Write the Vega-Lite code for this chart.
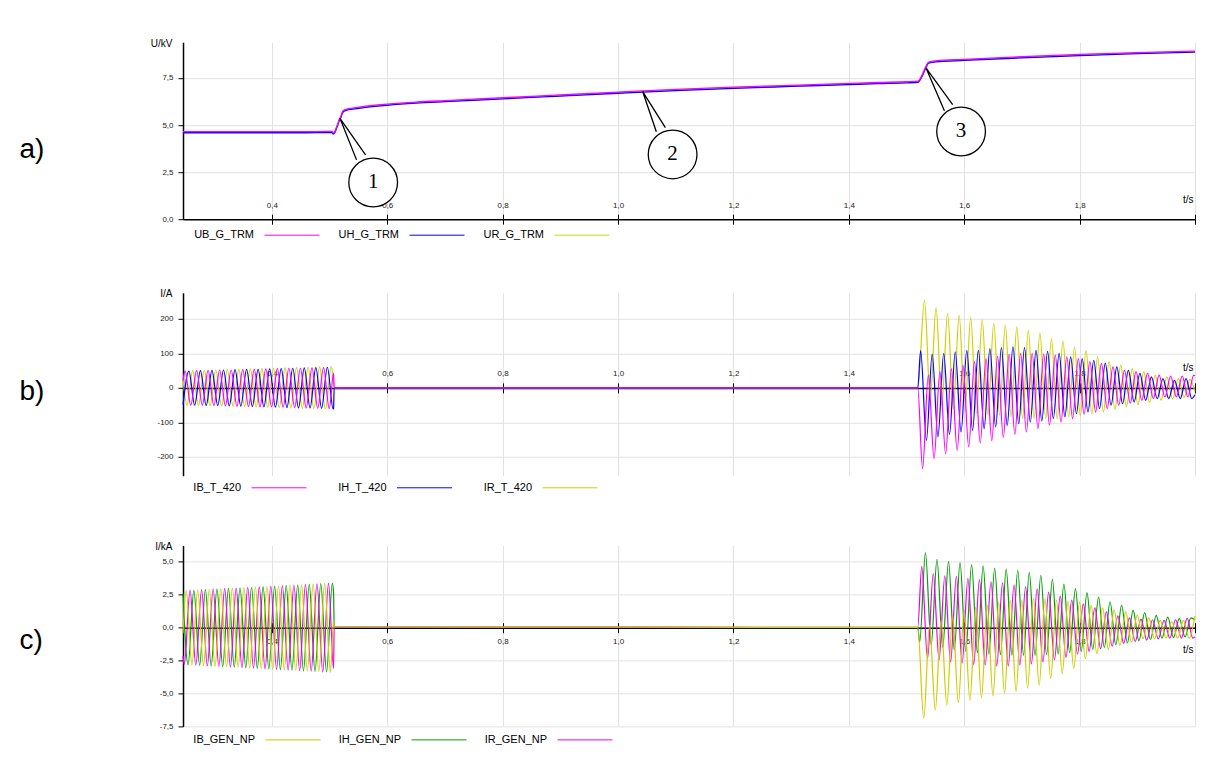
{
"$schema":"https://vega.github.io/schema/vega-lite/v6.json",
"background":"#ffffff",
"padding":{"left":19,"top":38.2,"right":5,"bottom":5},
"config":{
 "view":{"stroke":null},
 "font":"Liberation Sans",
 "axis":{"labelFont":"Liberation Sans","titleFont":"Liberation Sans","labelFontSize":8,"labelColor":"#222","domainColor":"#000","tickColor":"#000","gridColor":"#e2e2e2","titleFontWeight":"normal","titleColor":"#000","labelOverlap":false,"labelFlush":false},
 "legend":{"orient":"none","direction":"horizontal","symbolType":"stroke","symbolSize":3025,"symbolStrokeWidth":1,"labelAlign":"right","labelOffset":-66,"labelFontSize":11,"labelFont":"Liberation Sans","labelColor":"#000","title":null}
},
"datasets":{
"a":[
{"s":"R","t":0.246,"v":4.62},{"s":"R","t":0.35,"v":4.62},{"s":"R","t":0.45,"v":4.62},{"s":"R","t":0.5045,"v":4.63},{"s":"R","t":0.5065,"v":4.55},{"s":"R","t":0.509,"v":4.62},{"s":"R","t":0.512,"v":4.85},{"s":"R","t":0.5145,"v":5.05},{"s":"R","t":0.517,"v":5.28},{"s":"R","t":0.5195,"v":5.42},{"s":"R","t":0.522,"v":5.65},{"s":"R","t":0.524,"v":5.74},{"s":"R","t":0.53,"v":5.82},{"s":"R","t":0.54,"v":5.87},{"s":"R","t":0.56,"v":5.96},{"s":"R","t":0.6,"v":6.08},{"s":"R","t":0.65,"v":6.19},{"s":"R","t":0.7,"v":6.27},{"s":"R","t":0.8,"v":6.42},{"s":"R","t":0.9,"v":6.57},{"s":"R","t":1.0,"v":6.72},{"s":"R","t":1.1,"v":6.86},{"s":"R","t":1.2,"v":6.98},{"s":"R","t":1.3,"v":7.08},{"s":"R","t":1.4,"v":7.18},{"s":"R","t":1.45,"v":7.23},{"s":"R","t":1.5,"v":7.27},{"s":"R","t":1.52,"v":7.3},{"s":"R","t":1.523,"v":7.4},{"s":"R","t":1.527,"v":7.62},{"s":"R","t":1.531,"v":7.9},{"s":"R","t":1.534,"v":8.1},{"s":"R","t":1.537,"v":8.28},{"s":"R","t":1.54,"v":8.33},{"s":"R","t":1.55,"v":8.38},{"s":"R","t":1.6,"v":8.46},{"s":"R","t":1.7,"v":8.6},{"s":"R","t":1.8,"v":8.72},{"s":"R","t":1.9,"v":8.82},{"s":"R","t":2.0,"v":8.9},
{"s":"H","t":0.246,"v":4.59},{"s":"H","t":0.35,"v":4.59},{"s":"H","t":0.45,"v":4.59},{"s":"H","t":0.5045,"v":4.6},{"s":"H","t":0.5065,"v":4.52},{"s":"H","t":0.509,"v":4.59},{"s":"H","t":0.512,"v":4.82},{"s":"H","t":0.5145,"v":5.02},{"s":"H","t":0.517,"v":5.25},{"s":"H","t":0.5195,"v":5.39},{"s":"H","t":0.522,"v":5.62},{"s":"H","t":0.524,"v":5.71},{"s":"H","t":0.53,"v":5.79},{"s":"H","t":0.54,"v":5.84},{"s":"H","t":0.56,"v":5.93},{"s":"H","t":0.6,"v":6.05},{"s":"H","t":0.65,"v":6.16},{"s":"H","t":0.7,"v":6.24},{"s":"H","t":0.8,"v":6.39},{"s":"H","t":0.9,"v":6.54},{"s":"H","t":1.0,"v":6.69},{"s":"H","t":1.1,"v":6.83},{"s":"H","t":1.2,"v":6.95},{"s":"H","t":1.3,"v":7.05},{"s":"H","t":1.4,"v":7.15},{"s":"H","t":1.45,"v":7.2},{"s":"H","t":1.5,"v":7.24},{"s":"H","t":1.52,"v":7.27},{"s":"H","t":1.523,"v":7.37},{"s":"H","t":1.527,"v":7.59},{"s":"H","t":1.531,"v":7.87},{"s":"H","t":1.534,"v":8.07},{"s":"H","t":1.537,"v":8.25},{"s":"H","t":1.54,"v":8.3},{"s":"H","t":1.55,"v":8.35},{"s":"H","t":1.6,"v":8.43},{"s":"H","t":1.7,"v":8.57},{"s":"H","t":1.8,"v":8.69},{"s":"H","t":1.9,"v":8.79},{"s":"H","t":2.0,"v":8.87},
{"s":"B","t":0.246,"v":4.65},{"s":"B","t":0.35,"v":4.65},{"s":"B","t":0.45,"v":4.65},{"s":"B","t":0.5045,"v":4.66},{"s":"B","t":0.5065,"v":4.58},{"s":"B","t":0.509,"v":4.65},{"s":"B","t":0.512,"v":4.88},{"s":"B","t":0.5145,"v":5.08},{"s":"B","t":0.517,"v":5.31},{"s":"B","t":0.5195,"v":5.45},{"s":"B","t":0.522,"v":5.68},{"s":"B","t":0.524,"v":5.77},{"s":"B","t":0.53,"v":5.85},{"s":"B","t":0.54,"v":5.9},{"s":"B","t":0.56,"v":5.99},{"s":"B","t":0.6,"v":6.11},{"s":"B","t":0.65,"v":6.22},{"s":"B","t":0.7,"v":6.3},{"s":"B","t":0.8,"v":6.45},{"s":"B","t":0.9,"v":6.6},{"s":"B","t":1.0,"v":6.75},{"s":"B","t":1.1,"v":6.89},{"s":"B","t":1.2,"v":7.01},{"s":"B","t":1.3,"v":7.11},{"s":"B","t":1.4,"v":7.21},{"s":"B","t":1.45,"v":7.26},{"s":"B","t":1.5,"v":7.3},{"s":"B","t":1.52,"v":7.33},{"s":"B","t":1.523,"v":7.43},{"s":"B","t":1.527,"v":7.65},{"s":"B","t":1.531,"v":7.93},{"s":"B","t":1.534,"v":8.13},{"s":"B","t":1.537,"v":8.31},{"s":"B","t":1.54,"v":8.36},{"s":"B","t":1.55,"v":8.41},{"s":"B","t":1.6,"v":8.49},{"s":"B","t":1.7,"v":8.63},{"s":"B","t":1.8,"v":8.75},{"s":"B","t":1.9,"v":8.85},{"s":"B","t":2.0,"v":8.93}
],
"n":[
{"id":1,"o":1,"t":0.5468,"v":3.15},{"id":1,"o":2,"t":0.518,"v":5.36},{"id":1,"o":3,"t":0.5624,"v":3.42},
{"id":2,"o":1,"t":1.0664,"v":4.64},{"id":2,"o":2,"t":1.0427,"v":6.78},{"id":2,"o":3,"t":1.082,"v":4.86},
{"id":3,"o":1,"t":1.5657,"v":5.76},{"id":3,"o":2,"t":1.534,"v":8.02},{"id":3,"o":3,"t":1.58,"v":6.08}
],
"k":[
{"lab":"1","t":0.5756,"v":1.95},{"lab":"2","t":1.0946,"v":3.44},{"lab":"3","t":1.5946,"v":4.66}
],
"b":[
{"s":"R","t":0.246,"v":27},{"s":"R","t":0.2528,"v":-50},{"s":"R","t":0.2628,"v":50},{"s":"R","t":0.2728,"v":-51},{"s":"R","t":0.2828,"v":51},{"s":"R","t":0.2928,"v":-51},{"s":"R","t":0.3028,"v":52},{"s":"R","t":0.3128,"v":-52},{"s":"R","t":0.3228,"v":53},{"s":"R","t":0.3328,"v":-53},{"s":"R","t":0.3428,"v":54},{"s":"R","t":0.3528,"v":-54},{"s":"R","t":0.3628,"v":55},{"s":"R","t":0.3728,"v":-55},{"s":"R","t":0.3828,"v":56},{"s":"R","t":0.3928,"v":-56},{"s":"R","t":0.4028,"v":57},{"s":"R","t":0.4128,"v":-57},{"s":"R","t":0.4228,"v":58},{"s":"R","t":0.4328,"v":-58},{"s":"R","t":0.4428,"v":59},{"s":"R","t":0.4528,"v":-59},{"s":"R","t":0.4628,"v":60},{"s":"R","t":0.4728,"v":-60},{"s":"R","t":0.4828,"v":61},{"s":"R","t":0.4928,"v":-61},{"s":"R","t":0.5028,"v":62},{"s":"R","t":0.507,"v":15},{"s":"R","t":0.508,"v":0},{"s":"R","t":1.5195,"v":0},
{"s":"R","t":1.5312,"v":255},{"s":"R","t":1.5412,"v":-36},{"s":"R","t":1.5512,"v":233},{"s":"R","t":1.5612,"v":-50},{"s":"R","t":1.5712,"v":216},{"s":"R","t":1.5812,"v":-60},{"s":"R","t":1.5912,"v":211},{"s":"R","t":1.6012,"v":-70},{"s":"R","t":1.6112,"v":204},{"s":"R","t":1.6212,"v":-74},{"s":"R","t":1.6312,"v":198},{"s":"R","t":1.6412,"v":-79},{"s":"R","t":1.6512,"v":187},{"s":"R","t":1.6612,"v":-79},{"s":"R","t":1.6712,"v":182},{"s":"R","t":1.6812,"v":-84},{"s":"R","t":1.6912,"v":177},{"s":"R","t":1.7012,"v":-89},{"s":"R","t":1.7112,"v":167},{"s":"R","t":1.7212,"v":-89},{"s":"R","t":1.7312,"v":160},{"s":"R","t":1.7412,"v":-89},{"s":"R","t":1.7512,"v":143},{"s":"R","t":1.7612,"v":-89},{"s":"R","t":1.7712,"v":136},{"s":"R","t":1.7812,"v":-84},{"s":"R","t":1.7912,"v":118},{"s":"R","t":1.8012,"v":-80},{"s":"R","t":1.8112,"v":108},{"s":"R","t":1.8212,"v":-75},{"s":"R","t":1.8312,"v":90},{"s":"R","t":1.8412,"v":-70},{"s":"R","t":1.8512,"v":76},{"s":"R","t":1.8612,"v":-62},{"s":"R","t":1.8712,"v":66},{"s":"R","t":1.8812,"v":-55},{"s":"R","t":1.8912,"v":56},{"s":"R","t":1.9012,"v":-48},{"s":"R","t":1.9112,"v":47},{"s":"R","t":1.9212,"v":-42},{"s":"R","t":1.9312,"v":37},{"s":"R","t":1.9412,"v":-36},{"s":"R","t":1.9512,"v":32},{"s":"R","t":1.9612,"v":-32},{"s":"R","t":1.9712,"v":27},{"s":"R","t":1.9812,"v":-28},{"s":"R","t":1.9912,"v":25},{"s":"R","t":2.0,"v":-10},
{"s":"H","t":0.246,"v":-49},{"s":"H","t":0.2562,"v":49},{"s":"H","t":0.2662,"v":-50},{"s":"H","t":0.2762,"v":50},{"s":"H","t":0.2862,"v":-51},{"s":"H","t":0.2962,"v":51},{"s":"H","t":0.3062,"v":-51},{"s":"H","t":0.3162,"v":52},{"s":"H","t":0.3262,"v":-52},{"s":"H","t":0.3362,"v":53},{"s":"H","t":0.3462,"v":-53},{"s":"H","t":0.3562,"v":54},{"s":"H","t":0.3662,"v":-54},{"s":"H","t":0.3762,"v":54},{"s":"H","t":0.3862,"v":-55},{"s":"H","t":0.3962,"v":55},{"s":"H","t":0.4062,"v":-56},{"s":"H","t":0.4162,"v":56},{"s":"H","t":0.4262,"v":-57},{"s":"H","t":0.4362,"v":57},{"s":"H","t":0.4462,"v":-58},{"s":"H","t":0.4562,"v":58},{"s":"H","t":0.4662,"v":-58},{"s":"H","t":0.4762,"v":59},{"s":"H","t":0.4862,"v":-59},{"s":"H","t":0.4962,"v":60},{"s":"H","t":0.5062,"v":-61},{"s":"H","t":0.507,"v":-60},{"s":"H","t":0.508,"v":0},{"s":"H","t":1.5195,"v":0},
{"s":"H","t":1.5245,"v":108},{"s":"H","t":1.5345,"v":-152},{"s":"H","t":1.5445,"v":98},{"s":"H","t":1.5545,"v":-142},{"s":"H","t":1.5645,"v":100},{"s":"H","t":1.5745,"v":-135},{"s":"H","t":1.5845,"v":105},{"s":"H","t":1.5945,"v":-128},{"s":"H","t":1.6045,"v":109},{"s":"H","t":1.6145,"v":-123},{"s":"H","t":1.6245,"v":109},{"s":"H","t":1.6345,"v":-118},{"s":"H","t":1.6445,"v":114},{"s":"H","t":1.6545,"v":-113},{"s":"H","t":1.6645,"v":117},{"s":"H","t":1.6745,"v":-109},{"s":"H","t":1.6845,"v":119},{"s":"H","t":1.6945,"v":-104},{"s":"H","t":1.7045,"v":117},{"s":"H","t":1.7145,"v":-99},{"s":"H","t":1.7245,"v":109},{"s":"H","t":1.7345,"v":-96},{"s":"H","t":1.7445,"v":106},{"s":"H","t":1.7545,"v":-89},{"s":"H","t":1.7645,"v":100},{"s":"H","t":1.7745,"v":-84},{"s":"H","t":1.7845,"v":90},{"s":"H","t":1.7945,"v":-75},{"s":"H","t":1.8045,"v":85},{"s":"H","t":1.8145,"v":-70},{"s":"H","t":1.8245,"v":80},{"s":"H","t":1.8345,"v":-60},{"s":"H","t":1.8445,"v":71},{"s":"H","t":1.8545,"v":-50},{"s":"H","t":1.8645,"v":61},{"s":"H","t":1.8745,"v":-46},{"s":"H","t":1.8845,"v":51},{"s":"H","t":1.8945,"v":-41},{"s":"H","t":1.9045,"v":42},{"s":"H","t":1.9145,"v":-36},{"s":"H","t":1.9245,"v":32},{"s":"H","t":1.9345,"v":-31},{"s":"H","t":1.9445,"v":27},{"s":"H","t":1.9545,"v":-31},{"s":"H","t":1.9645,"v":22},{"s":"H","t":1.9745,"v":-31},{"s":"H","t":1.9845,"v":27},{"s":"H","t":1.9945,"v":-31},{"s":"H","t":2.0,"v":-20},
{"s":"B","t":0.246,"v":22},{"s":"B","t":0.2495,"v":49},{"s":"B","t":0.2595,"v":-50},{"s":"B","t":0.2695,"v":50},{"s":"B","t":0.2795,"v":-50},{"s":"B","t":0.2895,"v":51},{"s":"B","t":0.2995,"v":-51},{"s":"B","t":0.3095,"v":52},{"s":"B","t":0.3195,"v":-52},{"s":"B","t":0.3295,"v":52},{"s":"B","t":0.3395,"v":-53},{"s":"B","t":0.3495,"v":53},{"s":"B","t":0.3595,"v":-54},{"s":"B","t":0.3695,"v":54},{"s":"B","t":0.3795,"v":-55},{"s":"B","t":0.3895,"v":55},{"s":"B","t":0.3995,"v":-55},{"s":"B","t":0.4095,"v":56},{"s":"B","t":0.4195,"v":-56},{"s":"B","t":0.4295,"v":57},{"s":"B","t":0.4395,"v":-57},{"s":"B","t":0.4495,"v":57},{"s":"B","t":0.4595,"v":-58},{"s":"B","t":0.4695,"v":58},{"s":"B","t":0.4795,"v":-59},{"s":"B","t":0.4895,"v":59},{"s":"B","t":0.4995,"v":-60},{"s":"B","t":0.507,"v":42},{"s":"B","t":0.508,"v":0},{"s":"B","t":1.5195,"v":0},
{"s":"B","t":1.5278,"v":-234},{"s":"B","t":1.5378,"v":37},{"s":"B","t":1.5478,"v":-205},{"s":"B","t":1.5578,"v":47},{"s":"B","t":1.5678,"v":-191},{"s":"B","t":1.5778,"v":56},{"s":"B","t":1.5878,"v":-181},{"s":"B","t":1.5978,"v":66},{"s":"B","t":1.6078,"v":-171},{"s":"B","t":1.6178,"v":76},{"s":"B","t":1.6278,"v":-160},{"s":"B","t":1.6378,"v":85},{"s":"B","t":1.6478,"v":-153},{"s":"B","t":1.6578,"v":92},{"s":"B","t":1.6678,"v":-143},{"s":"B","t":1.6778,"v":98},{"s":"B","t":1.6878,"v":-135},{"s":"B","t":1.6978,"v":100},{"s":"B","t":1.7078,"v":-128},{"s":"B","t":1.7178,"v":100},{"s":"B","t":1.7278,"v":-118},{"s":"B","t":1.7378,"v":98},{"s":"B","t":1.7478,"v":-108},{"s":"B","t":1.7578,"v":95},{"s":"B","t":1.7678,"v":-99},{"s":"B","t":1.7778,"v":90},{"s":"B","t":1.7878,"v":-89},{"s":"B","t":1.7978,"v":85},{"s":"B","t":1.8078,"v":-76},{"s":"B","t":1.8178,"v":76},{"s":"B","t":1.8278,"v":-70},{"s":"B","t":1.8378,"v":71},{"s":"B","t":1.8478,"v":-60},{"s":"B","t":1.8578,"v":61},{"s":"B","t":1.8678,"v":-50},{"s":"B","t":1.8778,"v":51},{"s":"B","t":1.8878,"v":-44},{"s":"B","t":1.8978,"v":47},{"s":"B","t":1.9078,"v":-36},{"s":"B","t":1.9178,"v":42},{"s":"B","t":1.9278,"v":-31},{"s":"B","t":1.9378,"v":37},{"s":"B","t":1.9478,"v":-26},{"s":"B","t":1.9578,"v":34},{"s":"B","t":1.9678,"v":-26},{"s":"B","t":1.9778,"v":34},{"s":"B","t":1.9878,"v":-26},{"s":"B","t":1.9978,"v":37},{"s":"B","t":2.0,"v":35}
],
"c":[
{"s":"H","t":0.246,"v":2.6},{"s":"H","t":0.2548,"v":-2.82},{"s":"H","t":0.2648,"v":2.84},{"s":"H","t":0.2748,"v":-2.86},{"s":"H","t":0.2848,"v":2.89},{"s":"H","t":0.2948,"v":-2.91},{"s":"H","t":0.3048,"v":2.93},{"s":"H","t":0.3148,"v":-2.96},{"s":"H","t":0.3248,"v":2.98},{"s":"H","t":0.3348,"v":-3.0},{"s":"H","t":0.3448,"v":3.03},{"s":"H","t":0.3548,"v":-3.05},{"s":"H","t":0.3648,"v":3.07},{"s":"H","t":0.3748,"v":-3.1},{"s":"H","t":0.3848,"v":3.12},{"s":"H","t":0.3948,"v":-3.14},{"s":"H","t":0.4048,"v":3.16},{"s":"H","t":0.4148,"v":-3.19},{"s":"H","t":0.4248,"v":3.21},{"s":"H","t":0.4348,"v":-3.23},{"s":"H","t":0.4448,"v":3.26},{"s":"H","t":0.4548,"v":-3.28},{"s":"H","t":0.4648,"v":3.3},{"s":"H","t":0.4748,"v":-3.33},{"s":"H","t":0.4848,"v":3.35},{"s":"H","t":0.4948,"v":-3.37},{"s":"H","t":0.5048,"v":3.39},{"s":"H","t":0.507,"v":2.6},{"s":"H","t":0.508,"v":0.03},{"s":"H","t":1.5195,"v":0.0},
{"s":"H","t":1.5228,"v":-1.1},{"s":"H","t":1.5328,"v":5.7},{"s":"H","t":1.5428,"v":-1.3},{"s":"H","t":1.5528,"v":5.19},{"s":"H","t":1.5628,"v":-1.5},{"s":"H","t":1.5728,"v":5.04},{"s":"H","t":1.5828,"v":-1.7},{"s":"H","t":1.5928,"v":4.94},{"s":"H","t":1.6028,"v":-1.8},{"s":"H","t":1.6128,"v":4.79},{"s":"H","t":1.6228,"v":-1.9},{"s":"H","t":1.6328,"v":4.7},{"s":"H","t":1.6428,"v":-2.0},{"s":"H","t":1.6528,"v":4.53},{"s":"H","t":1.6628,"v":-2.05},{"s":"H","t":1.6728,"v":4.45},{"s":"H","t":1.6828,"v":-2.1},{"s":"H","t":1.6928,"v":4.36},{"s":"H","t":1.7028,"v":-2.1},{"s":"H","t":1.7128,"v":4.2},{"s":"H","t":1.7228,"v":-2.1},{"s":"H","t":1.7328,"v":3.98},{"s":"H","t":1.7428,"v":-2.05},{"s":"H","t":1.7528,"v":3.67},{"s":"H","t":1.7628,"v":-2.0},{"s":"H","t":1.7728,"v":3.3},{"s":"H","t":1.7828,"v":-1.9},{"s":"H","t":1.7928,"v":2.96},{"s":"H","t":1.8028,"v":-1.8},{"s":"H","t":1.8128,"v":2.66},{"s":"H","t":1.8228,"v":-1.65},{"s":"H","t":1.8328,"v":2.33},{"s":"H","t":1.8428,"v":-1.5},{"s":"H","t":1.8528,"v":1.95},{"s":"H","t":1.8628,"v":-1.3},{"s":"H","t":1.8728,"v":1.7},{"s":"H","t":1.8828,"v":-1.15},{"s":"H","t":1.8928,"v":1.32},{"s":"H","t":1.9028,"v":-1.0},{"s":"H","t":1.9128,"v":1.14},{"s":"H","t":1.9228,"v":-0.9},{"s":"H","t":1.9328,"v":0.94},{"s":"H","t":1.9428,"v":-0.8},{"s":"H","t":1.9528,"v":0.8},{"s":"H","t":1.9628,"v":-0.75},{"s":"H","t":1.9728,"v":0.68},{"s":"H","t":1.9828,"v":-0.7},{"s":"H","t":1.9928,"v":0.75},{"s":"H","t":2.0,"v":0.6},
{"s":"R","t":0.246,"v":-2.16},{"s":"R","t":0.2482,"v":-2.8},{"s":"R","t":0.2582,"v":2.83},{"s":"R","t":0.2682,"v":-2.85},{"s":"R","t":0.2782,"v":2.87},{"s":"R","t":0.2882,"v":-2.9},{"s":"R","t":0.2982,"v":2.92},{"s":"R","t":0.3082,"v":-2.94},{"s":"R","t":0.3182,"v":2.96},{"s":"R","t":0.3282,"v":-2.99},{"s":"R","t":0.3382,"v":3.01},{"s":"R","t":0.3482,"v":-3.03},{"s":"R","t":0.3582,"v":3.06},{"s":"R","t":0.3682,"v":-3.08},{"s":"R","t":0.3782,"v":3.1},{"s":"R","t":0.3882,"v":-3.13},{"s":"R","t":0.3982,"v":3.15},{"s":"R","t":0.4082,"v":-3.17},{"s":"R","t":0.4182,"v":3.2},{"s":"R","t":0.4282,"v":-3.22},{"s":"R","t":0.4382,"v":3.24},{"s":"R","t":0.4482,"v":-3.26},{"s":"R","t":0.4582,"v":3.29},{"s":"R","t":0.4682,"v":-3.31},{"s":"R","t":0.4782,"v":3.33},{"s":"R","t":0.4882,"v":-3.36},{"s":"R","t":0.4982,"v":3.38},{"s":"R","t":0.507,"v":-3.1},{"s":"R","t":0.508,"v":0.05},{"s":"R","t":1.5195,"v":0.02},
{"s":"R","t":1.5264,"v":4.66},{"s":"R","t":1.5364,"v":-2.35},{"s":"R","t":1.5464,"v":4.1},{"s":"R","t":1.5564,"v":-2.45},{"s":"R","t":1.5664,"v":3.93},{"s":"R","t":1.5764,"v":-2.6},{"s":"R","t":1.5864,"v":3.9},{"s":"R","t":1.5964,"v":-2.7},{"s":"R","t":1.6064,"v":3.75},{"s":"R","t":1.6164,"v":-2.8},{"s":"R","t":1.6264,"v":3.65},{"s":"R","t":1.6364,"v":-2.85},{"s":"R","t":1.6464,"v":3.5},{"s":"R","t":1.6564,"v":-2.9},{"s":"R","t":1.6664,"v":3.4},{"s":"R","t":1.6764,"v":-2.9},{"s":"R","t":1.6864,"v":3.25},{"s":"R","t":1.6964,"v":-2.85},{"s":"R","t":1.7064,"v":3.1},{"s":"R","t":1.7164,"v":-2.75},{"s":"R","t":1.7264,"v":2.95},{"s":"R","t":1.7364,"v":-2.6},{"s":"R","t":1.7464,"v":2.7},{"s":"R","t":1.7564,"v":-2.45},{"s":"R","t":1.7664,"v":2.4},{"s":"R","t":1.7764,"v":-2.25},{"s":"R","t":1.7864,"v":2.1},{"s":"R","t":1.7964,"v":-2.0},{"s":"R","t":1.8064,"v":1.8},{"s":"R","t":1.8164,"v":-1.8},{"s":"R","t":1.8264,"v":1.5},{"s":"R","t":1.8364,"v":-1.6},{"s":"R","t":1.8464,"v":1.2},{"s":"R","t":1.8564,"v":-1.4},{"s":"R","t":1.8664,"v":0.9},{"s":"R","t":1.8764,"v":-1.2},{"s":"R","t":1.8864,"v":0.75},{"s":"R","t":1.8964,"v":-1.05},{"s":"R","t":1.9064,"v":0.65},{"s":"R","t":1.9164,"v":-0.95},{"s":"R","t":1.9264,"v":0.6},{"s":"R","t":1.9364,"v":-0.85},{"s":"R","t":1.9464,"v":0.55},{"s":"R","t":1.9564,"v":-0.8},{"s":"R","t":1.9664,"v":0.6},{"s":"R","t":1.9764,"v":-0.8},{"s":"R","t":1.9864,"v":0.7},{"s":"R","t":1.9964,"v":-0.8},{"s":"R","t":2.0,"v":-0.7},
{"s":"B","t":0.246,"v":-0.44},{"s":"B","t":0.2515,"v":2.81},{"s":"B","t":0.2615,"v":-2.84},{"s":"B","t":0.2715,"v":2.86},{"s":"B","t":0.2815,"v":-2.88},{"s":"B","t":0.2915,"v":2.9},{"s":"B","t":0.3015,"v":-2.93},{"s":"B","t":0.3115,"v":2.95},{"s":"B","t":0.3215,"v":-2.97},{"s":"B","t":0.3315,"v":3.0},{"s":"B","t":0.3415,"v":-3.02},{"s":"B","t":0.3515,"v":3.04},{"s":"B","t":0.3615,"v":-3.07},{"s":"B","t":0.3715,"v":3.09},{"s":"B","t":0.3815,"v":-3.11},{"s":"B","t":0.3915,"v":3.14},{"s":"B","t":0.4015,"v":-3.16},{"s":"B","t":0.4115,"v":3.18},{"s":"B","t":0.4215,"v":-3.2},{"s":"B","t":0.4315,"v":3.23},{"s":"B","t":0.4415,"v":-3.25},{"s":"B","t":0.4515,"v":3.27},{"s":"B","t":0.4615,"v":-3.3},{"s":"B","t":0.4715,"v":3.32},{"s":"B","t":0.4815,"v":-3.34},{"s":"B","t":0.4915,"v":3.36},{"s":"B","t":0.5015,"v":-3.39},{"s":"B","t":0.507,"v":0.53},{"s":"B","t":0.508,"v":0.05},{"s":"B","t":1.5195,"v":0.02},
{"s":"B","t":1.5299,"v":-6.9},{"s":"B","t":1.5399,"v":0.18},{"s":"B","t":1.5499,"v":-6.25},{"s":"B","t":1.5599,"v":0.56},{"s":"B","t":1.5699,"v":-5.9},{"s":"B","t":1.5799,"v":0.94},{"s":"B","t":1.5899,"v":-5.7},{"s":"B","t":1.5999,"v":1.32},{"s":"B","t":1.6099,"v":-5.52},{"s":"B","t":1.6199,"v":1.57},{"s":"B","t":1.6299,"v":-5.35},{"s":"B","t":1.6399,"v":1.7},{"s":"B","t":1.6499,"v":-5.2},{"s":"B","t":1.6599,"v":1.95},{"s":"B","t":1.6699,"v":-5.0},{"s":"B","t":1.6799,"v":2.08},{"s":"B","t":1.6899,"v":-4.85},{"s":"B","t":1.6999,"v":2.1},{"s":"B","t":1.7099,"v":-4.6},{"s":"B","t":1.7199,"v":2.2},{"s":"B","t":1.7299,"v":-4.38},{"s":"B","t":1.7399,"v":2.2},{"s":"B","t":1.7499,"v":-3.87},{"s":"B","t":1.7599,"v":2.1},{"s":"B","t":1.7699,"v":-3.5},{"s":"B","t":1.7799,"v":2.0},{"s":"B","t":1.7899,"v":-3.1},{"s":"B","t":1.7999,"v":1.95},{"s":"B","t":1.8099,"v":-2.35},{"s":"B","t":1.8199,"v":1.7},{"s":"B","t":1.8299,"v":-1.98},{"s":"B","t":1.8399,"v":1.5},{"s":"B","t":1.8499,"v":-1.65},{"s":"B","t":1.8599,"v":1.35},{"s":"B","t":1.8699,"v":-1.34},{"s":"B","t":1.8799,"v":1.2},{"s":"B","t":1.8899,"v":-1.1},{"s":"B","t":1.8999,"v":0.95},{"s":"B","t":1.9099,"v":-0.84},{"s":"B","t":1.9199,"v":0.75},{"s":"B","t":1.9299,"v":-0.85},{"s":"B","t":1.9399,"v":0.55},{"s":"B","t":1.9499,"v":-0.8},{"s":"B","t":1.9599,"v":0.45},{"s":"B","t":1.9699,"v":-0.8},{"s":"B","t":1.9799,"v":0.55},{"s":"B","t":1.9899,"v":-0.8},{"s":"B","t":1.9999,"v":0.9}
]
},
"spacing":48.6,
"vconcat":[
{
 "width":1012,"height":177,
 "layer":[
  {"data":{"name":"a"},"mark":{"type":"line","interpolate":"monotone","strokeWidth":1.3},
   "encoding":{
    "x":{"field":"t","type":"quantitative","scale":{"domain":[0.246,2.0],"nice":false,"zero":false},
      "axis":{"orient":"top","offset":-177,"values":[0.4,0.6,0.8,1.0,1.2,1.4,1.6,1.8,2.0],"labelExpr":"datum.value>1.9?'':replace(format(datum.value,'.1f'),'.',',')","grid":true,"tickSize":5,"domainWidth":1.5,"labelPadding":5,"title":"t/s","titleFontSize":10,"titleAlign":"right","titleBaseline":"alphabetic","titleX":1010,"titleY":-17}},
    "y":{"field":"v","type":"quantitative","scale":{"domain":[0,9.4],"nice":false,"zero":false},
      "axis":{"values":[0,2.5,5,7.5],"labelExpr":"replace(format(datum.value,'.1f'),'.',',')","grid":true,"tickSize":5,"domainWidth":1.5,"labelPadding":5,"title":"U/kV","titleAngle":0,"titleAlign":"right","titleBaseline":"alphabetic","titleX":-11,"titleY":4,"titleFontSize":10}},
    "color":{"field":"s","type":"nominal","scale":{"domain":["B","H","R"],"range":["#ff00ff","#0000ff","#d8d800"]},
      "legend":{"legendX":81,"legendY":165,"columnPadding":16,"labelExpr":"datum.label=='B'?'UB_G_TRM':datum.label=='H'?'UH_G_TRM':'UR_G_TRM'"}}
   }},
  {"data":{"name":"n"},"mark":{"type":"line","interpolate":"linear","color":"#000","strokeWidth":1.3},
   "encoding":{
    "x":{"field":"t","type":"quantitative","axis":{"orient":"bottom","offset":0,"values":[0.4,0.6,0.8,1.0,1.2,1.4,1.6,1.8,2.0],"labels":false,"domain":false,"grid":false,"tickSize":5,"title":"a)","titleFontSize":28,"titleAlign":"left","titleBaseline":"middle","titleX":-164,"titleY":-70}},
    "y":{"field":"v","type":"quantitative"},
    "detail":{"field":"id"},
    "order":{"field":"o"}
   }},
  {"data":{"name":"k"},"mark":{"type":"point","shape":"circle","size":2376,"filled":true,"fill":"#ffffff","stroke":"#000","strokeWidth":1.3,"opacity":1},
   "encoding":{"x":{"field":"t","type":"quantitative","axis":null},"y":{"field":"v","type":"quantitative"}}},
  {"data":{"name":"k"},"mark":{"type":"text","font":"Liberation Serif","fontSize":21,"baseline":"middle","align":"center","color":"#000"},
   "encoding":{"x":{"field":"t","type":"quantitative","axis":null},"y":{"field":"v","type":"quantitative"},"text":{"field":"lab"}}}
 ],
 "resolve":{"axis":{"x":"independent"}}
},
{
 "width":1012,"height":183,
 "layer":[
  {"data":{"name":"b"},"mark":{"type":"line","interpolate":"monotone","strokeWidth":1.2},
   "encoding":{
    "x":{"field":"t","type":"quantitative","scale":{"domain":[0.246,2.0],"nice":false,"zero":false},
      "axis":{"orient":"top","offset":-95.1,"values":[0.4,0.6,0.8,1.0,1.2,1.4,1.6,1.8,2.0],"labelExpr":"datum.value>1.9?'':replace(format(datum.value,'.1f'),'.',',')","grid":true,"tickSize":5,"domainWidth":1.5,"labelPadding":5,"title":"t/s","titleFontSize":10,"titleAlign":"right","titleBaseline":"alphabetic","titleX":1010,"titleY":-17}},
    "y":{"field":"v","type":"quantitative","scale":{"domain":[-255,276],"nice":false,"zero":false},
      "axis":{"values":[-200,-100,0,100,200],"labelExpr":"''+datum.value","grid":true,"tickSize":5,"domainWidth":1.5,"labelPadding":5,"title":"I/A","titleAngle":0,"titleAlign":"right","titleBaseline":"alphabetic","titleX":-11,"titleY":4,"titleFontSize":10}},
    "color":{"field":"s","type":"nominal","scale":{"domain":["B","H","R"],"range":["#ff00ff","#0000ff","#d0d000"]},
      "legend":{"legendX":68,"legendY":167,"columnPadding":28.5,"labelExpr":"datum.label=='B'?'IB_T_420':datum.label=='H'?'IH_T_420':'IR_T_420'"}}
   }},
  {"data":{"values":[{"t":1.0}]},"mark":{"type":"rule","opacity":0},
   "encoding":{
    "x":{"field":"t","type":"quantitative","axis":{"orient":"bottom","offset":-87.9,"values":[0.4,0.6,0.8,1.0,1.2,1.4,1.6,1.8,2.0],"labels":false,"domain":false,"grid":false,"tickSize":5,"title":"b)","titleFontSize":28,"titleAlign":"left","titleBaseline":"middle","titleX":-164,"titleY":4}}
   }}
 ],
 "resolve":{"axis":{"x":"independent"}}
},
{
 "width":1012,"height":181,
 "layer":[
  {"data":{"name":"c"},"mark":{"type":"line","interpolate":"monotone","strokeWidth":1.2},
   "encoding":{
    "x":{"field":"t","type":"quantitative","scale":{"domain":[0.246,2.0],"nice":false,"zero":false},
      "axis":{"orient":"bottom","offset":-98.7,"values":[0.4,0.6,0.8,1.0,1.2,1.4,1.6,1.8,2.0],"labelExpr":"datum.value>1.9?'':replace(format(datum.value,'.1f'),'.',',')","grid":true,"tickSize":5,"domainWidth":1.5,"labelPadding":5,"title":"t/s","titleFontSize":10,"titleAlign":"right","titleBaseline":"alphabetic","titleX":1010,"titleY":25}},
    "y":{"field":"v","type":"quantitative","scale":{"domain":[-7.5,6.25],"nice":false,"zero":false},
      "axis":{"values":[-7.5,-5,-2.5,0,2.5,5],"labelExpr":"replace(replace(format(datum.value,'.1f'),'.',','),'\u2212','-')","grid":true,"tickSize":5,"domainWidth":1.5,"labelPadding":5,"title":"I/kA","titleAngle":0,"titleAlign":"right","titleBaseline":"alphabetic","titleX":-11,"titleY":4,"titleFontSize":10}},
    "color":{"field":"s","type":"nominal","scale":{"domain":["B","H","R"],"range":["#cccc00","#00a000","#ee00ee"]},
      "legend":{"legendX":82,"legendY":166.5,"columnPadding":15,"labelExpr":"datum.label=='B'?'IB_GEN_NP':datum.label=='H'?'IH_GEN_NP':'IR_GEN_NP'"}}
   }},
  {"data":{"values":[{"t":1.0}]},"mark":{"type":"rule","opacity":0},
   "encoding":{
    "x":{"field":"t","type":"quantitative","axis":{"orient":"top","offset":-82.3,"values":[0.4,0.6,0.8,1.0,1.2,1.4,1.6,1.8,2.0],"labels":false,"domain":false,"grid":false,"tickSize":5,"title":"c)","titleFontSize":28,"titleAlign":"left","titleBaseline":"middle","titleX":-164,"titleY":13}}
   }}
 ],
 "resolve":{"axis":{"x":"independent"}}
}
],
"resolve":{"scale":{"color":"independent","x":"independent","y":"independent"},"legend":{"color":"independent"}}
}
